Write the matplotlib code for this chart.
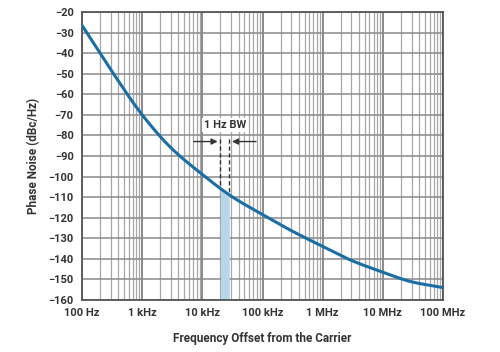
import numpy as np
import matplotlib
matplotlib.use("Agg")
import matplotlib.pyplot as plt
from matplotlib.ticker import FixedLocator, NullFormatter

freq_hz = [1e2, 3e2, 1e3, 3e3, 1e4, 3e4, 1e5, 3e5, 1e6, 3e6, 1e7, 3e7, 1e8]
phase_noise = [-26.5, -48, -70, -86, -99, -109.5, -118.5, -126.3, -134, -140.8, -146.5, -151.2, -154]
x_ticks = [1e2, 1e3, 1e4, 1e5, 1e6, 1e7, 1e8]
x_labels = ["100 Hz", "1 kHz", "10 kHz", "100 kHz", "1 MHz", "10 MHz", "100 MHz"]
y_ticks = list(range(-160, -19, 10))
band = [2.0e4, 2.8e4]
band_label = "1 Hz BW"


def pchip(x, y, xn):
    x = np.asarray(x, float); y = np.asarray(y, float)
    h = np.diff(x); d = np.diff(y) / h
    m = np.zeros_like(y)
    for k in range(1, len(x) - 1):
        if d[k - 1] * d[k] > 0:
            w1 = 2 * h[k] + h[k - 1]; w2 = h[k] + 2 * h[k - 1]
            m[k] = (w1 + w2) / (w1 / d[k - 1] + w2 / d[k])
    m[0] = d[0]; m[-1] = d[-1]
    idx = np.clip(np.searchsorted(x, xn) - 1, 0, len(h) - 1)
    t = (xn - x[idx]) / h[idx]
    h00 = 2*t**3 - 3*t**2 + 1; h10 = t**3 - 2*t**2 + t
    h01 = -2*t**3 + 3*t**2; h11 = t**3 - t**2
    return h00*y[idx] + h10*h[idx]*m[idx] + h01*y[idx+1] + h11*h[idx]*m[idx+1]


plt.rcParams['font.family'] = ['Roboto', 'DejaVu Sans']
fig = plt.figure(figsize=(5, 3.52), dpi=100)
ax = fig.add_axes([0.164, 0.148, 0.722, 0.818])
ax.set_xscale('log')
ax.set_xlim(1e2, 1e8)
ax.set_ylim(-160, -20)

# grid
minor = [m * 10**e for e in range(2, 8) for m in range(2, 10)]
for x in minor:
    ax.axvline(x, color='#a8a8a8', lw=0.9, zorder=1)
for x in x_ticks:
    ax.axvline(x, color='#8a8a8a', lw=1.4, zorder=1)
for y in y_ticks:
    ax.axhline(y, color='#8a8a8a', lw=1.1, zorder=1)

lf = np.log10(freq_hz)
lxs = np.linspace(2, 8, 600)
ys = pchip(lf, phase_noise, lxs)
ax.plot(10**lxs, ys, color='#1a6ea6', lw=2.2, zorder=4, solid_capstyle='round')

# shaded band
lbx = np.linspace(np.log10(band[0]), np.log10(band[1]), 30)
by = pchip(lf, phase_noise, lbx)
ax.fill_between(10**lbx, -160, by, color='#b8d6ea', zorder=2, lw=0)
for b in band:
    yb = pchip(lf, phase_noise, np.array([np.log10(b)]))[0]
    ax.plot([b, b], [-82, yb], color='#333333', lw=1.0, ls=(0, (3, 2)), zorder=3)

# arrows
ax.annotate('', xy=(band[0], -83), xytext=(band[0] / 3.1, -83),
            arrowprops=dict(arrowstyle='-|>', color='#333333', lw=1.0, mutation_scale=9), zorder=5)
ax.annotate('', xy=(band[1], -83), xytext=(band[1] * 3.1, -83),
            arrowprops=dict(arrowstyle='-|>', color='#333333', lw=1.0, mutation_scale=9), zorder=5)
ax.text(np.sqrt(band[0] * band[1]), -75, band_label, ha='center', va='center',
        fontsize=8, fontweight='bold', color='#333333', zorder=6,
        bbox=dict(facecolor='white', edgecolor='none', pad=1.5))

ax.xaxis.set_major_locator(FixedLocator(x_ticks))
ax.set_xticklabels(x_labels)
ax.xaxis.set_minor_formatter(NullFormatter())
ax.tick_params(axis='x', which='minor', length=0)
ax.set_yticks(y_ticks)
ax.set_yticklabels([f"\u2212{abs(v)}" for v in y_ticks])
ax.tick_params(length=0, labelsize=8, colors='#333333', pad=6)
for lab in ax.get_xticklabels() + ax.get_yticklabels():
    lab.set_fontweight('bold')

for s in ax.spines.values():
    s.set_color('#555555')
    s.set_linewidth(1.3)

ax.set_xlabel("Frequency Offset from the Carrier", fontsize=8.5, fontweight='bold', color='#333333', labelpad=10)
ax.set_ylabel("Phase Noise (dBc/Hz)", fontsize=8.5, fontweight='bold', color='#333333', labelpad=6)

fig.savefig("out.png", dpi=100)
